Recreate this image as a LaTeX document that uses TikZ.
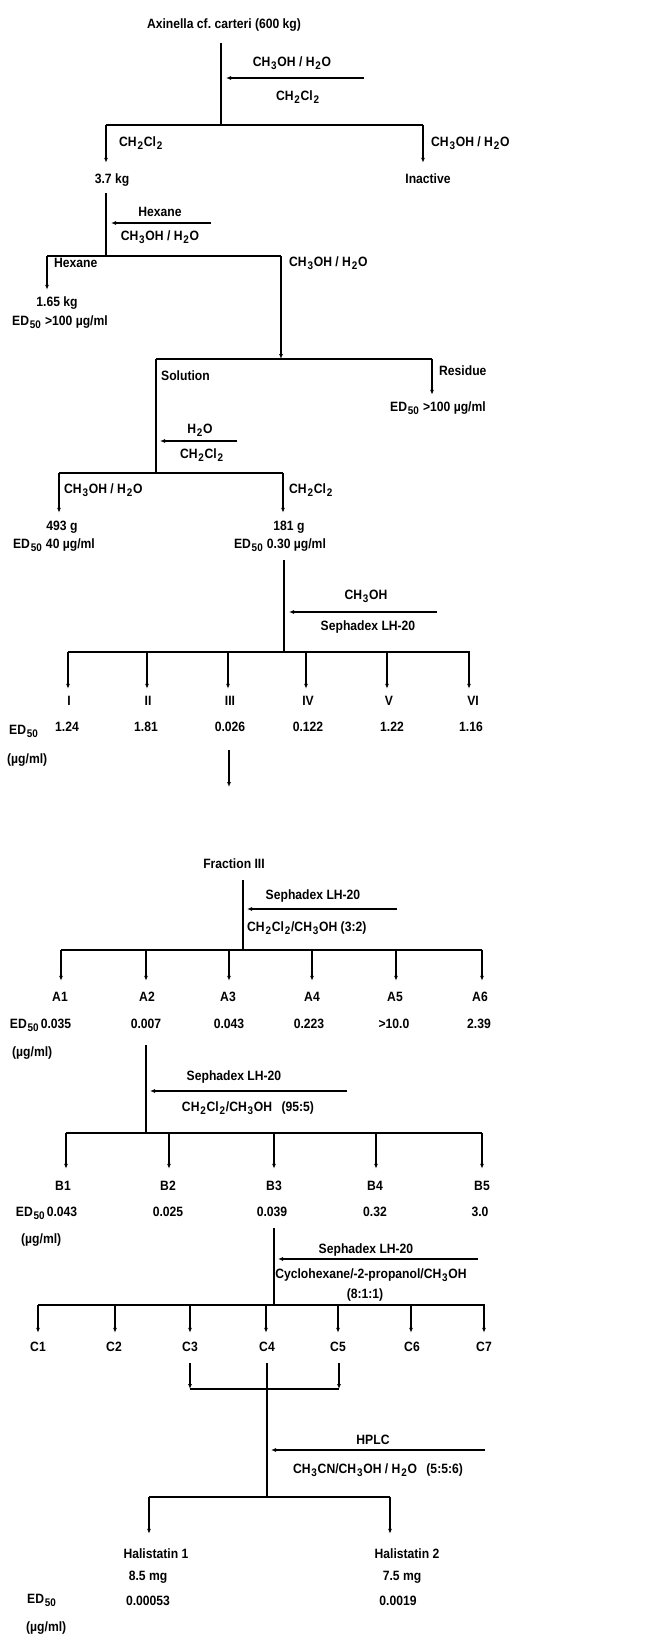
\documentclass[tikz,border=0pt]{standalone}
\usepackage{fontspec}
\setmainfont{Liberation Sans}[FakeStretch=0.9]
\usetikzlibrary{arrows.meta}
\newcommand\dn[1]{\kern0.8pt\raisebox{-2.8pt}{\fontsize{11}{11}\selectfont #1}\kern0.8pt\relax}
\begin{document}
\begin{tikzpicture}[x=1pt,y=-1pt,
  every node/.style={font=\bfseries\fontsize{13.5}{14}\selectfont, inner sep=1pt, text height=9.5pt, text depth=2.5pt},
  ln/.style={line width=1.5pt},
  arr/.style={line width=1.5pt,-{Latex[length=5pt,width=4pt]}}]
\useasboundingbox[fill=white] (0,0) rectangle (661,1648);

% ---------- stage 1
\node (title) at (224,25) {Axinella cf.\ carteri (600 kg)};
\coordinate (j0) at (221,125);
\draw[ln,shorten <=11pt] (title.south -| j0) -- (j0);
\coordinate (r1) at (364,78);
\draw[arr,shorten >=5pt] (r1) -- (r1 -| j0);
\node (r1a) at (292,63) {CH\dn{3}OH / H\dn{2}O};
\node (r1b) at (298,97) {CH\dn{2}Cl\dn{2}};
\coordinate (b1l) at (106,125);
\coordinate (b1r) at (423,125);
\draw[ln] (b1l) -- (b1r);
\node (kg37) at (112,180) {3.7 kg};
\node (inact) at (428,180) {Inactive};
\draw[arr,shorten >=10pt] (b1l) -- (b1l |- kg37.north);
\draw[arr,shorten >=10pt] (b1r) -- (b1r |- inact.north);
\node[anchor=west] (s1l) at (118,143) {CH\dn{2}Cl\dn{2}};
\node[anchor=west] (s1r) at (430,143) {CH\dn{3}OH / H\dn{2}O};

% ---------- stage 2
\coordinate (v2) at (106,256);
\draw[ln,shorten <=6pt] (kg37.south -| v2) -- (v2);
\coordinate (r2) at (211,223);
\draw[arr,shorten >=5pt] (r2) -- (r2 -| v2);
\node (r2a) at (160,213) {Hexane};
\node (r2b) at (160,237) {CH\dn{3}OH / H\dn{2}O};
\coordinate (b2l) at (47,256);
\coordinate (b2r) at (281,256);
\draw[ln] (b2l) -- (b2r);
\node[anchor=west] (s2l) at (53,264) {Hexane};
\node[anchor=west] (s2r) at (288,263) {CH\dn{3}OH / H\dn{2}O};
\node (kg165) at (57,303) {1.65 kg};
\node (ed2) at (60,322) {ED\dn{50} >100 µg/ml};
\draw[arr,shorten >=6pt] (b2l) -- (b2l |- kg165.north);

% ---------- stage 3
\coordinate (b3l) at (156,359);
\coordinate (b3m) at (281,359);
\coordinate (b3r) at (432,359);
\draw[arr] (b2r) -- (b3m);
\draw[ln] (b3l) -- (b3r);
\node[anchor=west] (sol) at (160,377) {Solution};
\node[anchor=west] (res) at (438,372) {Residue};
\node (ed3) at (438,408) {ED\dn{50} >100 µg/ml};
\draw[arr,shorten >=6pt] (b3r) -- (b3r |- ed3.north);
\coordinate (b4m) at (156,473);
\draw[ln] (b3l) -- (b4m);
\coordinate (r3) at (237,441);
\draw[arr,shorten >=4pt] (r3) -- (r3 -| b4m);
\node (r3a) at (200,430) {H\dn{2}O};
\node (r3b) at (202,455) {CH\dn{2}Cl\dn{2}};

% ---------- stage 4
\coordinate (b4l) at (59,473);
\coordinate (b4r) at (283,473);
\draw[ln] (b4l) -- (b4r);
\node[anchor=west] (s4l) at (63,490) {CH\dn{3}OH / H\dn{2}O};
\node[anchor=west] (s4r) at (288,490) {CH\dn{2}Cl\dn{2}};
\node (g493) at (62,527) {493 g};
\node (ed4l) at (54,545) {ED\dn{50} 40 µg/ml};
\node (g181) at (289,527) {181 g};
\node (ed4r) at (280,545) {ED\dn{50} 0.30 µg/ml};
\draw[arr,shorten >=7pt] (b4l) -- (b4l |- g493.north);
\draw[arr,shorten >=7pt] (b4r) -- (b4r |- g181.north);

% ---------- stage 5
\coordinate (v5b) at (284,652);
\draw[ln,shorten <=8pt] (ed4r.south -| v5b) -- (v5b);
\coordinate (r5) at (437,612);
\draw[arr,shorten >=5pt] (r5) -- (r5 -| v5b);
\node (r5a) at (366,596) {CH\dn{3}OH};
\node (r5b) at (368,627) {Sephadex LH-20};
\coordinate (b5l) at (68,652);
\coordinate (b5r) at (470,652);
\draw[ln] (b5l) -- (b5r);
\foreach \x/\lab/\lx/\val/\vx [count=\i] in {68/I/69/1.24/67, 147/II/148/1.81/146, 228/III/230/0.026/230, 306/IV/308/0.122/308, 387/V/389/1.22/392, 469/VI/473/1.16/471} {
  \coordinate (d5\i) at (\x,652);
  \node (f\i) at (\lx,702) {\lab};
  \node (fv\i) at (\vx,728) {\val};
  \draw[arr,shorten >=6pt] (d5\i) -- (d5\i |- f\i.north);
}
\node[anchor=west] (ed5) at (8,731) {ED\dn{50}};
\node[anchor=west] (u5) at (6,760) {(µg/ml)};
\coordinate (e5) at (229,787);
\draw[arr,shorten <=15pt] (fv3.south -| e5) -- (e5);

% ---------- stage 6
\node (frac) at (234,865) {Fraction III};
\coordinate (v6b) at (243,950);
\draw[ln,shorten <=8pt] (frac.south -| v6b) -- (v6b);
\coordinate (r6) at (397,909);
\draw[arr,shorten >=4pt] (r6) -- (r6 -| v6b);
\node (r6a) at (313,896) {Sephadex LH-20};
\node[anchor=west] (r6b) at (246,928) {CH\dn{2}Cl\dn{2}/CH\dn{3}OH (3:2)};
\coordinate (b6l) at (61,950);
\coordinate (b6r) at (482,950);
\draw[ln] (b6l) -- (b6r);
\foreach \x/\lab/\lx/\val/\vx [count=\i] in {61/A1/60/0.035/56, 146/A2/147/0.007/146, 229/A3/228/0.043/229, 312/A4/312/0.223/309, 396/A5/395/>10.0/394, 482/A6/480/2.39/479} {
  \coordinate (d6\i) at (\x,950);
  \node (a\i) at (\lx,998) {\lab};
  \node (av\i) at (\vx,1025) {\val};
  \draw[arr,shorten >=10pt] (d6\i) -- (d6\i |- a\i.north);
}
\node[anchor=east,inner sep=0pt] (ed6) at (av1.west) {ED\dn{50}};
\node[anchor=west] (u6) at (11,1053) {(µg/ml)};

% ---------- stage 7
\coordinate (v7b) at (146,1133);
\draw[ln,shorten <=13pt] (av2.south -| v7b) -- (v7b);
\coordinate (r7) at (347,1091);
\draw[arr,shorten >=4pt] (r7) -- (r7 -| v7b);
\node (r7a) at (234,1077) {Sephadex LH-20};
\node (r7b) at (248,1108) {CH\dn{2}Cl\dn{2}/CH\dn{3}OH\hspace{0.7em}(95:5)};
\coordinate (b7l) at (66,1133);
\coordinate (b7r) at (482,1133);
\draw[ln] (b7l) -- (b7r);
\foreach \x/\lab/\lx/\val/\vx [count=\i] in {66/B1/63/0.043/62, 169/B2/168/0.025/168, 274/B3/274/0.039/272, 376/B4/375/0.32/375, 482/B5/482/3.0/480} {
  \coordinate (d7\i) at (\x,1133);
  \node (b\i) at (\lx,1187) {\lab};
  \node (bv\i) at (\vx,1213) {\val};
  \draw[arr,shorten >=11pt] (d7\i) -- (d7\i |- b\i.north);
}
\node[anchor=east,inner sep=0pt] (ed7) at (bv1.west) {ED\dn{50}};
\node[anchor=west] (u7) at (20,1240) {(µg/ml)};

% ---------- stage 8
\coordinate (v8b) at (274,1305);
\draw[ln,shorten <=8pt] (bv3.south -| v8b) -- (v8b);
\coordinate (r8) at (478,1259);
\draw[arr,shorten >=4pt] (r8) -- (r8 -| v8b);
\node (r8a) at (366,1250) {Sephadex LH-20};
\node (r8b) at (371,1275) {Cyclohexane/-2-propanol/CH\dn{3}OH};
\node (r8c) at (365,1295) {(8:1:1)};
\coordinate (b8l) at (38,1305);
\coordinate (b8r) at (485,1305);
\draw[ln] (b8l) -- (b8r);
\foreach \x/\lx [count=\i] in {38/38, 115/114, 190/190, 266/267, 338/338, 411/412, 484/484} {
  \coordinate (d8\i) at (\x,1305);
  \node (c\i) at (\lx,1348) {C\i};
  \draw[arr,shorten >=8pt] (d8\i) -- (d8\i |- c\i.north);
}
\coordinate (k3) at (190,1389);
\coordinate (k5) at (339,1389);
\draw[arr,shorten <=8pt] (c3.south -| k3) -- (k3);
\draw[arr,shorten <=8pt] (c5.south -| k5) -- (k5);
\draw[ln] (k3) -- (k5);
\coordinate (v9b) at (267,1497);
\draw[ln,shorten <=8pt] (c4.south) -- (v9b);

% ---------- stage 9
\coordinate (r9) at (485,1450);
\draw[arr,shorten >=4pt] (r9) -- (r9 -| v9b);
\node (r9a) at (373,1441) {HPLC};
\node (r9b) at (378,1470) {CH\dn{3}CN/CH\dn{3}OH / H\dn{2}O\hspace{0.7em}(5:5:6)};
\coordinate (b9l) at (149,1497);
\coordinate (b9r) at (390,1497);
\draw[ln] (b9l) -- (b9r);
\node (h1) at (156,1555) {Halistatin 1};
\node (h2) at (407,1555) {Halistatin 2};
\draw[arr,shorten >=14pt] (b9l) -- (b9l |- h1.north);
\draw[arr,shorten >=14pt] (b9r) -- (b9r |- h2.north);
\node (m1) at (148,1577) {8.5 mg};
\node (m2) at (402,1577) {7.5 mg};
\node (e1) at (148,1602) {0.00053};
\node (e2) at (398,1602) {0.0019};
\node[anchor=west] (ed9) at (26,1600) {ED\dn{50}};
\node[anchor=west] (u9) at (25,1628) {(µg/ml)};
\end{tikzpicture}
\end{document}
